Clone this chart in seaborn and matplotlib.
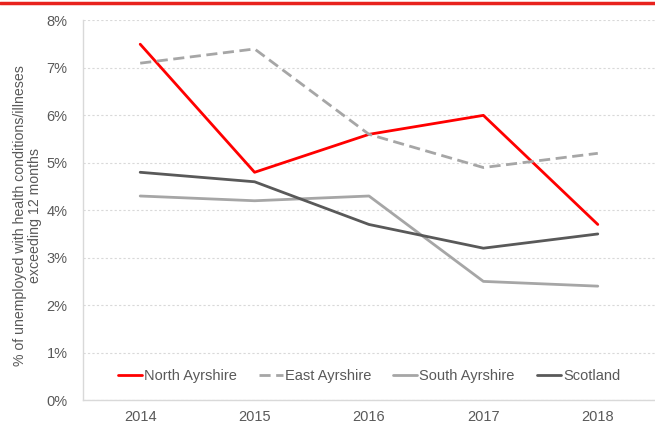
import pandas as pd
import seaborn as sb
import matplotlib.pyplot as plt
from matplotlib.ticker import PercentFormatter

years = ['2014', '2015', '2016', '2017', '2018']
north_ayrshire = [7.5, 4.8, 5.6, 6.0, 3.7]
east_ayrshire = [7.1, 7.4, 5.6, 4.9, 5.2]
south_ayrshire = [4.3, 4.2, 4.3, 2.5, 2.4]
scotland = [4.8, 4.6, 3.7, 3.2, 3.5]

series_names = ['North Ayrshire', 'East Ayrshire', 'South Ayrshire', 'Scotland']

df = pd.DataFrame({
    'Year': years * 4,
    'Area': [n for n in series_names for _ in years],
    'Value': north_ayrshire + east_ayrshire + south_ayrshire + scotland,
})

sb.set_theme(style="white")
plt.rcParams['font.family'] = ['Liberation Sans', 'DejaVu Sans']

fig = plt.figure(figsize=(6.55, 4.24), dpi=100)
ax = fig.add_axes([0.1267, 0.0566, 0.8733, 0.8951])

palette = {'North Ayrshire': '#ff0000', 'East Ayrshire': '#a6a6a6',
           'South Ayrshire': '#a6a6a6', 'Scotland': '#595959'}
dashes = {'North Ayrshire': '', 'East Ayrshire': (4, 2),
          'South Ayrshire': '', 'Scotland': ''}

sb.lineplot(data=df, x='Year', y='Value', hue='Area', style='Area',
            palette=palette, dashes=dashes, linewidth=2, ax=ax, sort=False)

ax.set_ylim(0, 8)
ax.set_xlim(-0.5, 4.5)
ax.yaxis.set_major_formatter(PercentFormatter(decimals=0))
ax.set_yticks(range(0, 9))
ax.yaxis.grid(True, color='#d9d9d9', linestyle=(0, (2, 2)), linewidth=0.8)
ax.tick_params(axis='y', length=0, labelsize=10.5, colors='#595959', pad=11)
ax.tick_params(axis='x', length=0, labelsize=10.5, colors='#595959', pad=7)
ax.set_xlabel('')
ax.set_ylabel('% of unemployed with health conditions/illneses\nexceeding 12 months',
              fontsize=10.2, color='#595959', linespacing=1.05)
ax.yaxis.set_label_coords(-0.072, 0.487)

for side in ['top', 'right']:
    ax.spines[side].set_visible(False)
for side in ['left', 'bottom']:
    ax.spines[side].set_color('#d9d9d9')
    ax.spines[side].set_linewidth(1)

leg = ax.legend(loc='center', bbox_to_anchor=(0.5, 0.063), ncol=4,
                frameon=False, fontsize=10.5, handlelength=1.65,
                handletextpad=0.15, columnspacing=1.5)
for t in leg.get_texts():
    t.set_color('#595959')

# red rule across the top
fig.add_artist(plt.Line2D([0, 1], [0.992, 0.992], color='#e8221d',
                          linewidth=2.5, transform=fig.transFigure))

plt.savefig('out.png', dpi=100)
